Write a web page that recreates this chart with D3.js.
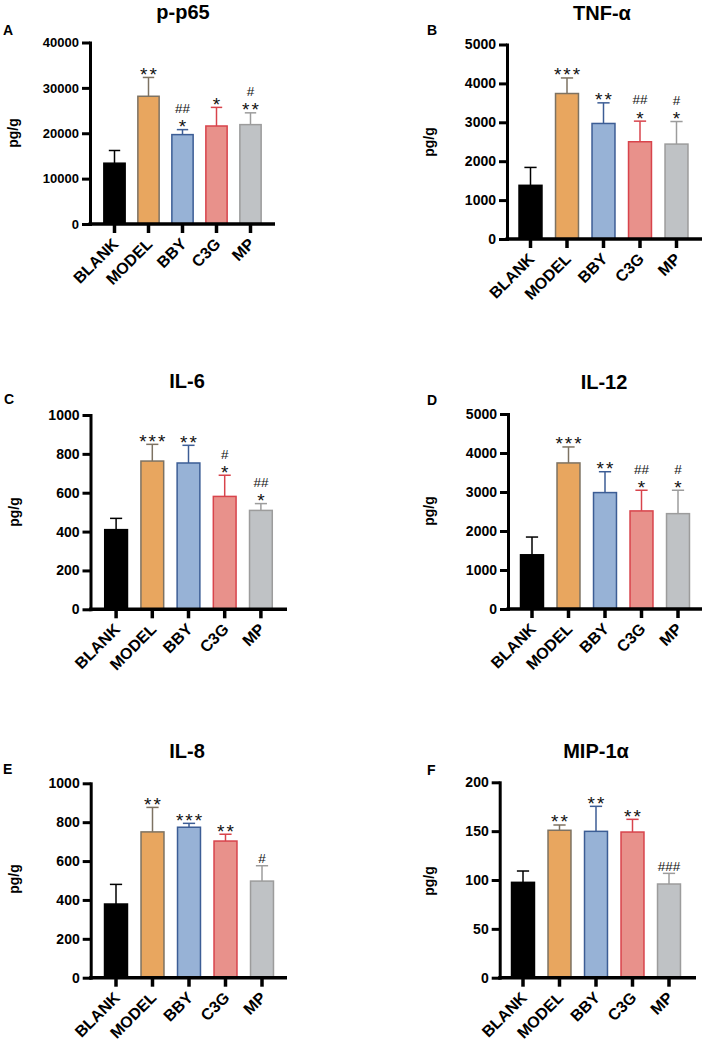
<!DOCTYPE html>
<html><head><meta charset="utf-8">
<script src="https://cdn.jsdelivr.net/npm/d3@7"></script>
<style>
body{margin:0;background:#fff}
svg{display:block}
text{font-family:"Liberation Sans",Arial,Helvetica,sans-serif}
</style>
</head><body>
<svg id="chart" width="708" height="1053"></svg>
<script>
// ---------- data ----------
const categories = ["BLANK", "MODEL", "BBY", "C3G", "MP"];
const titles = ["p-p65", "TNF-α", "IL-6", "IL-12", "IL-8", "MIP-1α"];
const panelLetters = ["A", "B", "C", "D", "E", "F"];
const yLabel = "pg/g";

const ticksP65 = [0, 10000, 20000, 30000, 40000];
const ticksTNF = [0, 1000, 2000, 3000, 4000, 5000];
const ticksIL6 = [0, 200, 400, 600, 800, 1000];
const ticksIL12 = [0, 1000, 2000, 3000, 4000, 5000];
const ticksIL8 = [0, 200, 400, 600, 800, 1000];
const ticksMIP = [0, 50, 100, 150, 200];

const meanP65 = [13400, 28150, 19700, 21600, 21900];
const sdP65   = [2800, 4150, 1100, 4100, 2600];
const starsP65  = ["", "**", "*", "*", "**"];
const hashesP65 = ["", "", "##", "", "#"];

const meanTNF = [1380, 3740, 2970, 2500, 2440];
const sdTNF   = [460, 400, 530, 530, 580];
const starsTNF  = ["", "***", "**", "*", "*"];
const hashesTNF = ["", "", "", "##", "#"];

const meanIL6 = [410, 763, 753, 581, 509];
const sdIL6   = [58, 86, 91, 109, 35];
const starsIL6  = ["", "***", "**", "*", "*"];
const hashesIL6 = ["", "", "", "#", "##"];

const meanIL12 = [1390, 3745, 2985, 2515, 2445];
const sdIL12   = [455, 410, 535, 530, 600];
const starsIL12  = ["", "***", "**", "*", "*"];
const hashesIL12 = ["", "", "", "##", "#"];

const meanIL8 = [379, 750, 774, 703, 497];
const sdIL8   = [101, 126, 20, 35, 79];
const starsIL8  = ["", "**", "***", "**", ""];
const hashesIL8 = ["", "", "", "", "#"];

const meanMIP = [97.6, 150.9, 149.8, 149.1, 95.9];
const sdMIP   = [11.6, 5.4, 25.6, 13.0, 10.9];
const starsMIP  = ["", "**", "**", "**", ""];
const hashesMIP = ["", "", "", "", "###"];

// ---------- styles ----------
const fills   = ["#000000", "#E8A65F", "#97B2D6", "#E8918B", "#BFC2C5"];
const strokes = ["#000000", "#7d7262", "#3c5d95", "#d8444c", "#9c9c9c"];

const panels = [
  {title: titles[0], letter: panelLetters[0], ticks: ticksP65, means: meanP65, sd: sdP65, stars: starsP65, hashes: hashesP65},
  {title: titles[1], letter: panelLetters[1], ticks: ticksTNF, means: meanTNF, sd: sdTNF, stars: starsTNF, hashes: hashesTNF},
  {title: titles[2], letter: panelLetters[2], ticks: ticksIL6, means: meanIL6, sd: sdIL6, stars: starsIL6, hashes: hashesIL6},
  {title: titles[3], letter: panelLetters[3], ticks: ticksIL12, means: meanIL12, sd: sdIL12, stars: starsIL12, hashes: hashesIL12},
  {title: titles[4], letter: panelLetters[4], ticks: ticksIL8, means: meanIL8, sd: sdIL8, stars: starsIL8, hashes: hashesIL8},
  {title: titles[5], letter: panelLetters[5], ticks: ticksMIP, means: meanMIP, sd: sdMIP, stars: starsMIP, hashes: hashesMIP}
];

// layout (pixel geometry of each panel)
const layout = [
  {axisX: 90,    yTop: 42.5,  yBase: 224,   left: 97.5,   right: 267.5,  xEnd: 275, titleX: 183, titleY: 18.5,  letterX: 3,   letterY: 35,    ylabX: 18,  ylabY: 133, tickFont: 13},
  {axisX: 507,   yTop: 44.5,  yBase: 239,   left: 512.25, right: 694.75, xEnd: 702, titleX: 602, titleY: 20,    letterX: 427, letterY: 35,    ylabX: 434, ylabY: 142, tickFont: 14},
  {axisX: 90.5,  yTop: 415,   yBase: 609.3, left: 98,     right: 279,    xEnd: 287, titleX: 187, titleY: 387.5, letterX: 4,   letterY: 403.5, ylabX: 19,  ylabY: 512, tickFont: 14},
  {axisX: 508,   yTop: 414,   yBase: 609,   left: 513.75, right: 696.25, xEnd: 702, titleX: 604, titleY: 388.5, letterX: 427, letterY: 405,   ylabX: 434, ylabY: 511, tickFont: 14},
  {axisX: 90.7,  yTop: 783.3, yBase: 977.7, left: 97.75,  right: 280.25, xEnd: 287, titleX: 187, titleY: 757.5, letterX: 3,   letterY: 774,   ylabX: 19,  ylabY: 879, tickFont: 14},
  {axisX: 499.7, yTop: 782.3, yBase: 977.7, left: 504.75, right: 687.25, xEnd: 696, titleX: 596, titleY: 757.5, letterX: 427, letterY: 775,   ylabX: 434, ylabY: 881, tickFont: 14}
];

const svg = d3.select("#chart");

panels.forEach((p, i) => {
  const L = layout[i];
  const g = svg.append("g");
  const yMax = p.ticks[p.ticks.length - 1];
  const y = d3.scaleLinear().domain([0, yMax]).range([L.yBase, L.yTop]);
  const x = d3.scaleBand().domain(categories).range([L.left, L.right])
    .paddingInner(0.33).paddingOuter(0.165);
  const bw = x.bandwidth();

  // title, letter, y label
  g.append("text").attr("x", L.titleX).attr("y", L.titleY).attr("text-anchor", "middle")
    .attr("font-size", 20).attr("font-weight", "bold").text(p.title);
  g.append("text").attr("x", L.letterX).attr("y", L.letterY)
    .attr("font-size", 14).attr("font-weight", "bold").text(p.letter);
  g.append("text").attr("transform", `translate(${L.ylabX},${L.ylabY}) rotate(-90)`)
    .attr("text-anchor", "middle").attr("font-size", 14).attr("font-weight", "bold").text(yLabel);

  // error bars (upper only)
  const eb = g.selectAll("g.err").data(categories).join("g").attr("class", "err");
  eb.append("line")
    .attr("x1", c => x(c) + bw / 2).attr("x2", c => x(c) + bw / 2)
    .attr("y1", (c, j) => y(p.means[j])).attr("y2", (c, j) => y(p.means[j] + p.sd[j]))
    .attr("stroke", (c, j) => strokes[j]).attr("stroke-width", 1.5);
  eb.append("line")
    .attr("x1", c => x(c) + bw / 2 - bw / 4).attr("x2", c => x(c) + bw / 2 + bw / 4)
    .attr("y1", (c, j) => y(p.means[j] + p.sd[j])).attr("y2", (c, j) => y(p.means[j] + p.sd[j]))
    .attr("stroke", (c, j) => strokes[j]).attr("stroke-width", 1.5);

  // bars
  g.selectAll("rect.bar").data(categories).join("rect").attr("class", "bar")
    .attr("x", c => x(c) + 0.75).attr("width", bw - 1.5)
    .attr("y", (c, j) => y(p.means[j]))
    .attr("height", (c, j) => L.yBase - y(p.means[j]))
    .attr("fill", (c, j) => fills[j]).attr("stroke", (c, j) => strokes[j]).attr("stroke-width", 1.5);

  // annotations: significance marks above error bars
  categories.forEach((c, j) => {
    const cx = x(c) + bw / 2;
    const top = y(p.means[j] + p.sd[j]);
    let center = top - 7;
    if (p.stars[j]) {
      g.append("text").attr("x", cx + 1).attr("y", center + 10.5).attr("text-anchor", "middle")
        .attr("font-size", 19).attr("letter-spacing", 2).attr("fill", "#111").text(p.stars[j]);
      center -= 14.5;
    } else {
      center = top - 7.5;
    }
    if (p.hashes[j]) {
      g.append("text").attr("x", cx).attr("y", center + 4.8).attr("text-anchor", "middle")
        .attr("font-size", 13.5).attr("fill", "#111").text(p.hashes[j]);
    }
  });

  // y axis
  const ya = d3.axisLeft(y).tickValues(p.ticks).tickSize(8).tickSizeOuter(0).tickPadding(3)
    .tickFormat(d3.format("d"));
  const yg = g.append("g").attr("transform", `translate(${L.axisX},0)`).call(ya)
    .attr("font-size", null).attr("font-family", null);
  yg.select(".domain").attr("stroke", "#000").attr("stroke-width", 3).attr("stroke-linecap", "square");
  yg.selectAll(".tick line").attr("stroke", "#000").attr("stroke-width", 3);
  yg.selectAll(".tick text").attr("fill", "#000").attr("font-size", L.tickFont).attr("font-weight", "bold");

  // x axis
  const xa = d3.axisBottom(x).tickSize(9).tickSizeOuter(0);
  const xg = g.append("g").attr("transform", `translate(0,${L.yBase})`).call(xa)
    .attr("font-size", null).attr("font-family", null);
  xg.select(".domain").remove();
  xg.selectAll(".tick line").attr("stroke", "#000").attr("stroke-width", 3.5);
  xg.selectAll(".tick text")
    .attr("y", null).attr("dy", null)
    .attr("transform", "translate(5,21) rotate(-45)")
    .attr("text-anchor", "end").attr("fill", "#000")
    .attr("font-size", 16).attr("font-weight", "bold");
  g.append("line").attr("x1", L.axisX - 1.5).attr("x2", L.xEnd)
    .attr("y1", L.yBase).attr("y2", L.yBase).attr("stroke", "#000").attr("stroke-width", 3.5);
});
</script>
</body></html>
